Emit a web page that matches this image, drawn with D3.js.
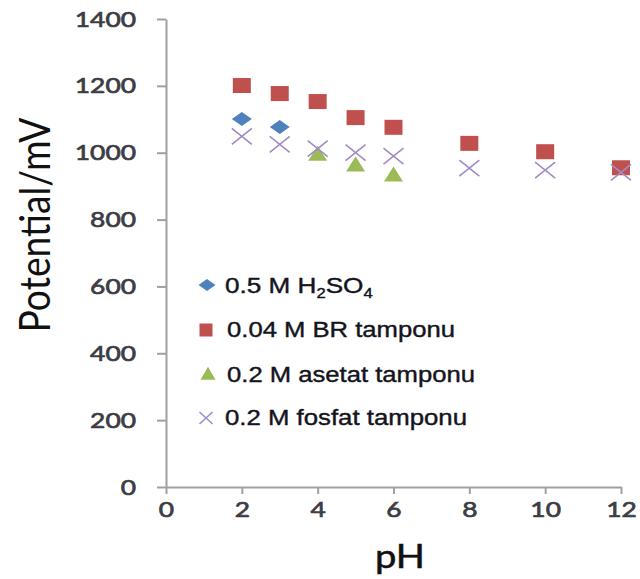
<!DOCTYPE html>
<html><head><meta charset="utf-8">
<script src="https://cdn.jsdelivr.net/npm/d3@7"></script>
<style>html,body{margin:0;padding:0;background:#fff}</style>
</head><body>
<script>
const xTicks = [0,2,4,6,8,10,12];
const yTicks = [0,200,400,600,800,1000,1200,1400];
const h2so4_pH = [2,3];
const h2so4_E = [1101,1077];
const br_pH = [2,3,4,5,6,8,10,12];
const br_E = [1201,1177,1153,1105,1076,1028,1003,955];
const asetat_pH = [4,5,6];
const asetat_E = [996,964,934];
const fosfat_pH = [2,3,4,5,6,8,10,12];
const fosfat_E = [1049,1025,1012,1000,990,954,948,941];
const seriesNames = ["0.5 M H2SO4","0.04 M BR tamponu","0.2 M asetat tamponu","0.2 M fosfat tamponu"];

const W=640,H=579;
const svg=d3.select("body").append("svg").attr("width",W).attr("height",H);
const x=d3.scaleLinear().domain([0,12]).range([166,621]);
const y=d3.scaleLinear().domain([0,1400]).range([487,19]);
const axisCol="#a0a0a0";
const tickFont="Lato, 'Open Sans', sans-serif";

const gx=svg.append("g").attr("transform","translate(0,487)")
 .call(d3.axisBottom(x).tickValues(xTicks).tickFormat(d3.format("d")).tickSize(7).tickSizeOuter(0).tickPadding(18));
const gy=svg.append("g").attr("transform","translate(166,0)")
 .call(d3.axisLeft(y).tickValues(yTicks).tickFormat(d3.format("d")).tickSize(9).tickSizeOuter(0).tickPadding(21));
[gx,gy].forEach(g=>{
 g.select(".domain").attr("stroke",axisCol).attr("stroke-width",2);
 g.selectAll(".tick line").attr("stroke",axisCol).attr("stroke-width",2);
 g.selectAll(".tick text").attr("fill","#3c3c44").attr("stroke","#3c3c44").attr("stroke-width",0.7)
  .style("font-family",tickFont).style("font-size","22px").style("font-weight","normal")
  .attr("lengthAdjust","spacingAndGlyphs").attr("textLength",d=>String(d).length*15.3);
});
gx.selectAll(".tick text").attr("dy","0").attr("y",30);

svg.append("text").attr("x",400).attr("y",568).attr("text-anchor","middle")
 .style("font-family",tickFont).style("font-size","32px").attr("fill","#111").attr("stroke","#111").attr("stroke-width",0.5)
 .attr("textLength",50).attr("lengthAdjust","spacingAndGlyphs").text("pH");
svg.append("text").attr("transform","translate(50,225) scale(1.2,1) rotate(-90)").attr("text-anchor","middle")
 .style("font-family",tickFont).style("font-size","36px").attr("fill","#111")
 .attr("textLength",215).attr("lengthAdjust","spacingAndGlyphs").text("Potential/mV");

const blue="#4F81BD",red="#C0504D",green="#9BBB59",purple="#a08cc4";
function diamond(g,cx,cy,w,h){g.append("path").attr("d",`M${cx-w/2},${cy} L${cx},${cy-h/2} L${cx+w/2},${cy} L${cx},${cy+h/2} Z`).attr("fill",blue);}
function square(g,cx,cy,w,h){g.append("rect").attr("x",cx-w/2).attr("y",cy-h/2).attr("width",w).attr("height",h).attr("fill",red);}
function tri(g,cx,cy,w,h){g.append("path").attr("d",`M${cx},${cy-h*0.55} L${cx+w/2},${cy+h*0.45} L${cx-w/2},${cy+h*0.45} Z`).attr("fill",green);}
function cross(g,cx,cy,w,h){g.append("path").attr("d",`M${cx-w/2},${cy-h/2} L${cx+w/2},${cy+h/2} M${cx-w/2},${cy+h/2} L${cx+w/2},${cy-h/2}`).attr("stroke",purple).attr("stroke-width",1.6).attr("fill","none");}

const gm=svg.append("g");
br_pH.forEach((p,i)=>square(gm,x(p),y(br_E[i]),18,15));
h2so4_pH.forEach((p,i)=>diamond(gm,x(p),y(h2so4_E[i]),20,14));
asetat_pH.forEach((p,i)=>tri(gm,x(p),y(asetat_E[i]),19,15));
fosfat_pH.forEach((p,i)=>cross(gm,x(p),y(fosfat_E[i]),20,16));

// legend
const leg=svg.append("g");
const lb=[293,337,382,425];
const lx=[225,227,227,225];
const lw=[148,228,248,242];
const lf="'Liberation Sans', Arial, sans-serif";
const lcol="#141420";
diamond(leg,207,lb[0]-8,17,12);
square(leg,206,lb[1]-7,13,13);
tri(leg,208,lb[2]-8,15,13);
cross(leg,206,lb[3]-7,13,12);
const t0=leg.append("text").attr("x",0).attr("y",0).style("font-family",lf).style("font-size","22px")
 .attr("fill",lcol).attr("stroke",lcol).attr("stroke-width",0.4);
t0.append("tspan").text("0.5 M H");
t0.append("tspan").attr("dy",5).style("font-size","14px").text("2");
t0.append("tspan").attr("dy",-5).text("SO");
t0.append("tspan").attr("dy",5).style("font-size","14px").text("4");
const w0=t0.node().getBBox().width;
t0.attr("transform",`translate(${lx[0]},${lb[0]}) scale(${lw[0]/w0},1)`);
seriesNames.slice(1).forEach((n,i)=>{
 leg.append("text").attr("x",lx[i+1]).attr("y",lb[i+1]).style("font-family",lf).style("font-size","22px")
  .attr("fill",lcol).attr("stroke",lcol).attr("stroke-width",0.4)
  .attr("textLength",lw[i+1]).attr("lengthAdjust","spacingAndGlyphs").text(n);
});
</script>
</body></html>
